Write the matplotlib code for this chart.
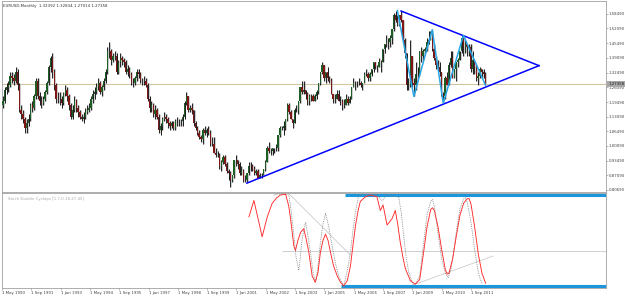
import numpy as np
import matplotlib
matplotlib.use("Agg")
import matplotlib.pyplot as plt
import matplotlib.transforms as mtrans

# EURUSD monthly, May 1990 .. May 2012 (one value per month)
first_open = 1.17
closes = [
    1.18, 1.20, 1.25, 1.26, 1.27, 1.31, 1.30, 1.29,
    1.33, 1.27, 1.16, 1.14, 1.12, 1.08, 1.10, 1.12, 1.18, 1.17, 1.22, 1.29,
    1.22, 1.20, 1.19, 1.21, 1.24, 1.28, 1.35, 1.39, 1.33, 1.27, 1.21, 1.21,
    1.21, 1.19, 1.23, 1.25, 1.22, 1.18, 1.13, 1.16, 1.20, 1.17, 1.15, 1.13,
    1.12, 1.13, 1.15, 1.16, 1.17, 1.21, 1.23, 1.24, 1.26, 1.28, 1.24, 1.26,
    1.29, 1.33, 1.42, 1.42, 1.38, 1.40, 1.40, 1.33, 1.37, 1.39, 1.38, 1.37,
    1.33, 1.34, 1.32, 1.28, 1.28, 1.30, 1.33, 1.32, 1.29, 1.29, 1.29, 1.27,
    1.21, 1.17, 1.18, 1.14, 1.16, 1.13, 1.07, 1.09, 1.12, 1.13, 1.12, 1.10,
    1.09, 1.10, 1.08, 1.11, 1.11, 1.11, 1.11, 1.13, 1.19, 1.22, 1.16, 1.17,
    1.16, 1.10, 1.08, 1.06, 1.04, 1.03, 1.07, 1.06, 1.07, 1.06, 1.01, 1.01,
    0.97, 0.96, 0.96, 0.91, 0.93, 0.95, 0.92, 0.89, 0.88, 0.85, 0.87, 0.94,
    0.94, 0.92, 0.88, 0.89, 0.85, 0.85, 0.88, 0.91, 0.91, 0.90, 0.88, 0.89,
    0.86, 0.87, 0.87, 0.90, 0.93, 0.99, 0.98, 0.98, 0.99, 0.99, 0.99, 1.05,
    1.08, 1.08, 1.09, 1.12, 1.18, 1.15, 1.12, 1.10, 1.16, 1.16, 1.20, 1.26,
    1.24, 1.25, 1.23, 1.20, 1.22, 1.22, 1.20, 1.22, 1.24, 1.28, 1.33, 1.36,
    1.30, 1.33, 1.30, 1.29, 1.23, 1.21, 1.21, 1.23, 1.20, 1.20, 1.18, 1.18,
    1.21, 1.19, 1.21, 1.26, 1.28, 1.28, 1.28, 1.28, 1.27, 1.28, 1.32, 1.32,
    1.30, 1.32, 1.34, 1.37, 1.35, 1.35, 1.37, 1.37, 1.43, 1.45, 1.46, 1.46,
    1.48, 1.52, 1.58, 1.56, 1.55, 1.58, 1.56, 1.47, 1.41, 1.27, 1.27, 1.40,
    1.28, 1.27, 1.32, 1.32, 1.42, 1.40, 1.42, 1.43, 1.46, 1.47, 1.50, 1.43,
    1.39, 1.36, 1.35, 1.33, 1.23, 1.22, 1.30, 1.27, 1.36, 1.39, 1.30, 1.34,
    1.37, 1.38, 1.42, 1.48, 1.44, 1.45, 1.44, 1.44, 1.34, 1.38, 1.35, 1.30,
    1.31, 1.34, 1.33, 1.32, 1.27358]
highs = [
    1.20, 1.22, 1.26, 1.28, 1.29, 1.33, 1.33, 1.32,
    1.35, 1.34, 1.28, 1.18, 1.16, 1.13, 1.12, 1.14, 1.19, 1.20, 1.23, 1.30,
    1.30, 1.24, 1.22, 1.22, 1.25, 1.29, 1.36, 1.40, 1.41, 1.34, 1.28, 1.24,
    1.24, 1.22, 1.24, 1.27, 1.26, 1.23, 1.19, 1.18, 1.22, 1.21, 1.18, 1.16,
    1.14, 1.15, 1.17, 1.18, 1.19, 1.22, 1.25, 1.26, 1.28, 1.30, 1.29, 1.27,
    1.30, 1.34, 1.44, 1.46, 1.43, 1.41, 1.42, 1.41, 1.38, 1.41, 1.40, 1.39,
    1.38, 1.36, 1.35, 1.33, 1.30, 1.31, 1.34, 1.34, 1.33, 1.30, 1.31, 1.30,
    1.28, 1.22, 1.20, 1.19, 1.18, 1.17, 1.14, 1.10, 1.13, 1.15, 1.14, 1.13,
    1.11, 1.11, 1.11, 1.12, 1.13, 1.12, 1.12, 1.14, 1.20, 1.24, 1.22, 1.18,
    1.19, 1.16, 1.11, 1.09, 1.07, 1.05, 1.08, 1.09, 1.08, 1.09, 1.07, 1.04,
    1.04, 0.99, 0.98, 0.97, 0.94, 0.96, 0.96, 0.93, 0.90, 0.89, 0.87, 0.94,
    0.96, 0.94, 0.93, 0.91, 0.90, 0.87, 0.88, 0.93, 0.93, 0.92, 0.91, 0.90,
    0.90, 0.88, 0.88, 0.90, 0.94, 1.00, 1.02, 0.99, 0.99, 0.99, 1.01, 1.05,
    1.09, 1.09, 1.11, 1.12, 1.19, 1.19, 1.16, 1.12, 1.17, 1.18, 1.20, 1.26,
    1.29, 1.29, 1.25, 1.24, 1.23, 1.23, 1.23, 1.23, 1.25, 1.28, 1.33, 1.37,
    1.36, 1.33, 1.35, 1.31, 1.30, 1.23, 1.23, 1.25, 1.25, 1.22, 1.21, 1.21,
    1.23, 1.22, 1.22, 1.26, 1.30, 1.29, 1.29, 1.30, 1.29, 1.28, 1.33, 1.34,
    1.33, 1.33, 1.34, 1.37, 1.37, 1.36, 1.39, 1.38, 1.43, 1.45, 1.49, 1.48,
    1.49, 1.52, 1.59, 1.60, 1.58, 1.58, 1.60, 1.56, 1.48, 1.41, 1.30, 1.47,
    1.40, 1.30, 1.37, 1.35, 1.42, 1.44, 1.43, 1.44, 1.48, 1.51, 1.51, 1.515,
    1.45, 1.40, 1.38, 1.37, 1.33, 1.24, 1.31, 1.33, 1.37, 1.42, 1.42, 1.34,
    1.37, 1.39, 1.42, 1.49, 1.49, 1.47, 1.45, 1.45, 1.45, 1.42, 1.38, 1.36,
    1.33, 1.35, 1.34, 1.34, 1.32834]
lows = [
    1.15, 1.17, 1.19, 1.23, 1.24, 1.26, 1.28, 1.27,
    1.28, 1.25, 1.15, 1.12, 1.10, 1.06, 1.06, 1.09, 1.11, 1.15, 1.16, 1.21,
    1.21, 1.18, 1.17, 1.18, 1.20, 1.23, 1.27, 1.33, 1.30, 1.25, 1.19, 1.19,
    1.18, 1.17, 1.18, 1.22, 1.20, 1.16, 1.12, 1.12, 1.15, 1.15, 1.13, 1.12,
    1.11, 1.10, 1.12, 1.14, 1.15, 1.16, 1.19, 1.21, 1.23, 1.25, 1.23, 1.22,
    1.25, 1.28, 1.32, 1.39, 1.36, 1.37, 1.38, 1.32, 1.32, 1.35, 1.36, 1.35,
    1.32, 1.31, 1.30, 1.27, 1.26, 1.27, 1.29, 1.30, 1.28, 1.27, 1.27, 1.26,
    1.20, 1.15, 1.15, 1.13, 1.12, 1.12, 1.06, 1.05, 1.07, 1.11, 1.10, 1.08,
    1.07, 1.08, 1.07, 1.07, 1.09, 1.09, 1.09, 1.09, 1.12, 1.18, 1.15, 1.15,
    1.14, 1.09, 1.07, 1.05, 1.03, 1.02, 1.01, 1.05, 1.04, 1.05, 1.00, 1.00,
    0.97, 0.95, 0.95, 0.90, 0.89, 0.92, 0.91, 0.88, 0.85, 0.82, 0.84, 0.86,
    0.91, 0.90, 0.87, 0.87, 0.84, 0.84, 0.84, 0.87, 0.89, 0.89, 0.87, 0.87,
    0.86, 0.86, 0.86, 0.87, 0.89, 0.93, 0.97, 0.96, 0.96, 0.97, 0.98, 0.98,
    1.04, 1.07, 1.05, 1.07, 1.11, 1.14, 1.12, 1.08, 1.10, 1.15, 1.14, 1.19,
    1.23, 1.23, 1.21, 1.18, 1.18, 1.20, 1.20, 1.20, 1.21, 1.23, 1.27, 1.32,
    1.29, 1.28, 1.29, 1.28, 1.23, 1.19, 1.19, 1.21, 1.20, 1.18, 1.16, 1.17,
    1.18, 1.18, 1.19, 1.21, 1.26, 1.25, 1.26, 1.27, 1.26, 1.25, 1.28, 1.31,
    1.29, 1.29, 1.31, 1.33, 1.34, 1.33, 1.35, 1.33, 1.37, 1.41, 1.44, 1.43,
    1.44, 1.45, 1.51, 1.55, 1.53, 1.53, 1.55, 1.46, 1.39, 1.25, 1.25, 1.26,
    1.26, 1.22, 1.25, 1.29, 1.31, 1.37, 1.38, 1.41, 1.42, 1.45, 1.47, 1.42,
    1.38, 1.34, 1.33, 1.31, 1.22, 1.19, 1.21, 1.27, 1.27, 1.35, 1.30, 1.30,
    1.29, 1.35, 1.38, 1.41, 1.40, 1.41, 1.40, 1.40, 1.33, 1.32, 1.32, 1.29,
    1.27, 1.30, 1.30, 1.30, 1.27014]

bid_price = 1.27358
price_ticks = [1.5849, 1.5209, 1.4549, 1.3909, 1.3249, 1.2609, 1.1949,
               1.1309, 1.0649, 1.0009, 0.9349, 0.8709, 0.8069]

# month index of the x axis labels (0 = May 1990)
date_idx = [0, 16, 32, 48, 64, 80, 96, 112, 128, 144, 160, 176, 192, 208, 224, 240, 256]
date_labels = ['1 May 1990', '1 Sep 1991', '1 Jan 1993', '1 May 1994', '1 Sep 1995',
               '1 Jan 1997', '1 May 1998', '1 Sep 1999', '1 Jan 2001', '1 May 2002',
               '1 Sep 2003', '1 Jan 2005', '1 May 2006', '1 Sep 2007', '1 Jan 2009',
               '1 May 2010', '1 Sep 2011']

# triangle trend lines and zigzag
upper_line_idx = [218, 293.2]
upper_line_val = [1.598, 1.356]
lower_line_idx = [134, 293.2]
lower_line_val = [0.836, 1.356]
zz_idx = [216, 225, 235, 241, 252, 264]
zz_val = [1.60, 1.22, 1.515, 1.19, 1.49, 1.27]

# oscillator (0..100)
red_idx = [134.8, 137.5, 140, 142, 144.8, 147.5, 150, 152, 154.8, 156.5, 157.5, 159.3,
           160.2, 161.5, 163, 164.7, 166, 167.5, 169.3, 171, 172.5, 173.8, 175.2, 176.6,
           178, 179.3, 181, 183, 184.8, 186.5, 188.5, 190.2, 191.6, 193, 194.3, 195.6,
           198.4, 201, 204.7, 206.5, 208, 210.2, 212.9, 214.7, 216, 217.4, 218.8, 220.2,
           222.9, 225.6, 228, 230, 232, 234, 235, 236, 238, 240, 242, 243, 244, 246,
           248, 250, 252, 254, 255, 256, 258, 260, 262, 264]
red_val = [76, 94, 72, 54, 76, 91, 97, 100, 101, 88, 74, 44,
           39, 50, 59, 63, 52, 37, 11, 4, 15, 37, 50, 57,
           50, 37, 22, 11, 4, 0, 6, 22, 45, 67, 82, 93,
           98, 100, 98, 83, 89, 67, 74, 83, 68, 48, 32, 19,
           6, 2, 7, 35, 65, 84, 86, 83, 65, 40, 18, 13, 14, 30,
           55, 78, 91, 96, 96, 90, 65, 35, 14, 3]
grey_idx = [148.4, 150, 153, 156.6, 158, 159.3, 160.5, 162, 163, 163.9, 165.7, 167,
            168.4, 169.8, 171.1, 172.4, 173.8, 175.2, 176.6, 178.4, 180.2, 182, 183.8,
            186.5, 188.3, 190.2, 191.5, 192.9, 194.7, 204.7, 207.5, 210, 213, 216.5,
            218, 219.2, 220.6, 222, 224.3, 226, 228, 230, 232, 234, 235, 236, 238,
            240, 242, 243.6, 245, 246, 248, 250, 252, 253, 254, 256, 258, 260, 261, 262]
grey_val = [100, 101, 101, 100, 80, 56, 32, 17, 35, 52, 70, 55,
            37, 15, 4, 20, 48, 68, 80, 65, 44, 25, 11,
            0, 15, 37, 60, 81, 100, 100, 94, 100, 99, 98,
            80, 56, 32, 15, 2, 3, 11, 45, 78, 93, 95, 88, 58,
            30, 14, 9, 18, 30, 60, 85, 96, 97, 92, 70, 40, 15, 8, 3]
fall_line_idx = [156.4, 190.2]
fall_line_val = [102, 34]
rise_line_idx = [222.9, 268.1]
rise_line_val = [0, 33]
level = 38.2
level_start = 153
top_band_start = 187.5
bot_band_start = 185.3

W, H = 625, 297
fig = plt.figure(figsize=(W / 100, H / 100), dpi=100)
fig.patch.set_facecolor('white')


def px_axes(x0, y0, x1, y1):
    return fig.add_axes([x0 / W, 1 - y1 / H, (x1 - x0) / W, (y1 - y0) / H])


ax1 = px_axes(2, 1, 606, 192)
ax2 = px_axes(2, 193, 606, 288)

xlo, xhi = 0.545, 329.7
frame = '#a0a0a0'
for ax in (ax1, ax2):
    ax.set_xlim(xlo, xhi)
    for s in ax.spines.values():
        s.set_color(frame)
        s.set_linewidth(0.6)

# candles: grey halo, black wick, coloured body
o = np.r_[first_open, np.array(closes[:-1])]
c = np.array(closes)
idx = np.arange(len(c))
cols = np.where(c >= o, '#1c5e24', '#7e1616')
ax1.vlines(idx + 0.45, lows, highs, color='#b8b8b8', lw=0.5, zorder=1)
ax1.vlines(idx, lows, highs, color='#000000', lw=0.6, zorder=2)
ax1.bar(idx, np.abs(c - o), bottom=np.minimum(o, c), width=0.75, color=cols,
        linewidth=0, zorder=3)

ax1.axhline(bid_price, color='#cfc29a', lw=0.7, zorder=0)
ax1.plot(upper_line_idx, upper_line_val, color='#0000ff', lw=1.1, zorder=4)
ax1.plot(lower_line_idx, lower_line_val, color='#0000ff', lw=1.1, zorder=4)
ax1.plot(zz_idx, zz_val, color='#28a6e6', lw=1.1, zorder=5)

ax1.set_ylim(0.7968, 1.6422)
ax1.set_xticks([])
ax1.yaxis.tick_right()
ax1.set_yticks(price_ticks)
ax1.set_yticklabels(['%.5f' % p for p in price_ticks])
ax1.tick_params(axis='y', length=1.5, width=0.4, color='#808080', pad=0.6,
                labelsize=2.8, labelcolor='#404040')

trans = mtrans.blended_transform_factory(ax1.transAxes, ax1.transData)
ax1.text(1.004, bid_price, '%.5f' % bid_price, transform=trans, fontsize=2.8,
         va='center', ha='left', color='#1a1a1a', zorder=10, clip_on=False,
         bbox=dict(boxstyle='square,pad=0.25', fc='#a8a8a8', ec='none'))

fig.text(3 / W, 1 - 5.5 / H, 'EURUSD,Monthly  1.32392 1.32834 1.27014 1.27358',
         fontsize=2.8, color='#303030', va='center', ha='left')

# indicator panel
ax2.set_ylim(-2.2, 102.2)
ax2.hlines(level, level_start, xhi, color='#c8c8c8', lw=0.6, zorder=1)
ax2.plot(fall_line_idx, fall_line_val, color='#c4c4c4', lw=0.5, zorder=1)
ax2.plot(rise_line_idx, rise_line_val, color='#c4c4c4', lw=0.5, zorder=1)
ax2.hlines(100, top_band_start, xhi, color='#1a96dc', lw=2.2, zorder=2)
ax2.hlines(0, bot_band_start, xhi, color='#1a96dc', lw=2.2, zorder=2)
ax2.plot(grey_idx, grey_val, color='#808080', lw=0.6, ls=(0, (1, 1.2)), zorder=3)
ax2.plot(red_idx, red_val, color='#ff2a2a', lw=0.65, zorder=4)

ax2.set_yticks([])
ax2.set_xticks(date_idx)
ax2.set_xticklabels(date_labels)
ax2.tick_params(axis='x', length=1.5, width=0.4, color='#808080', pad=0.8,
                labelsize=2.8, labelcolor='#404040')
for lab in ax2.get_xticklabels():
    lab.set_ha('left')

ax2.text(6 / 604, 1 - 6 / 95, 'Stoch Double Cyclops [1.7,0.18,27.45]',
         transform=ax2.transAxes, fontsize=2.8, color='#a8a8a8', va='center', ha='left')

fig.savefig('out.png', dpi=100)
